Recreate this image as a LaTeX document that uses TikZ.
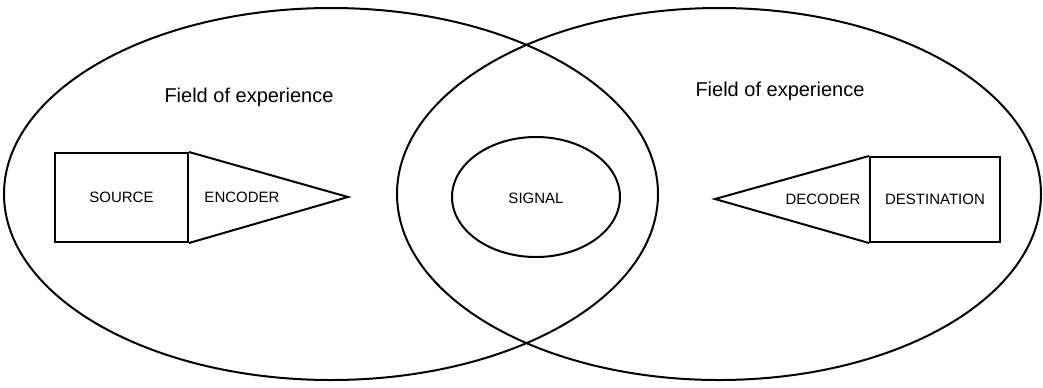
\documentclass[tikz,border=0pt]{standalone}
\usepackage{fontspec}
\setmainfont{Liberation Sans}
\usetikzlibrary{shapes.geometric}

\begin{document}
\begin{tikzpicture}[x=0.5pt, y=-0.5pt,
  field/.style={draw, line width=1pt, ellipse, inner sep=0pt, minimum height=186pt},
  ebox/.style={draw, line width=1pt, inner sep=0pt, font=\fontsize{7.5}{9}\selectfont},
  lbl/.style={font=\fontsize{7.5}{9}\selectfont},
  flbl/.style={font=\fontsize{10}{12}\selectfont},
]
\useasboundingbox (0,0) rectangle (1043,387);

% Fields of experience
\node[field, minimum width=327pt] (fsrc) at (331,194) {};
\node[field, minimum width=322pt] (fdst) at (719,194) {};
\node[flbl] (fsrclbl) at (249,97) {Field of experience};
\node[flbl] (fdstlbl) at (780,91) {Field of experience};

% Signal
\node[field, minimum width=84pt, minimum height=60pt] (sig) at (536,197) {};
\node[lbl] (siglbl) at (536,198) {SIGNAL};

% Source and encoder
\node[ebox, minimum width=66.5pt, minimum height=44.5pt] (src) at (121.5,197.5) {SOURCE};
\coordinate (enctip) at (348,197);
\draw[line width=1pt, line join=miter] (src.north east) -- (enctip) -- (src.south east);
\node[lbl] (enc) at (242,197) {ENCODER};

% Decoder and destination
\node[ebox, minimum width=65pt, minimum height=42.5pt] (dst) at (935,199.5) {DESTINATION};
\coordinate (dectip) at (715,199);
\draw[line width=1pt, line join=miter] (dst.north west) -- (dectip) -- (dst.south west);
\node[lbl] (dec) at (823,199) {DECODER};
\end{tikzpicture}
\end{document}
